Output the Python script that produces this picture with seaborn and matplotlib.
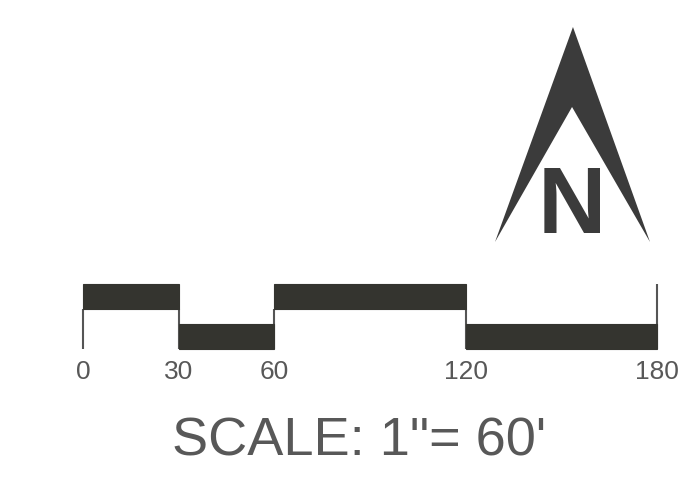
import seaborn as sns
import numpy as np
import matplotlib.pyplot as plt
from matplotlib.patches import Polygon

# scale bar data (feet)
breaks = [0, 30, 60, 120, 180]
levels = ['upper', 'lower', 'upper', 'lower']
tick_labels = ['0', '30', '60', '120', '180']
title = 'SCALE: 1"= 60\''
north = 'N'

sns.set_theme(style="white")
plt.rcParams['font.family'] = ['Liberation Sans', 'DejaVu Sans']

bar_col = '#34342f'
line_col = '#555555'
text_col = '#585858'
arrow_col = '#3b3b3b'

fig = plt.figure(figsize=(6.91, 4.83), dpi=100)
fig.patch.set_facecolor('white')

# scale bar
ax = fig.add_axes([83 / 691, 134 / 483, 574 / 691, 65 / 483])
band_h = 1.0
gap = 0.6
bottoms = {'lower': 0.0, 'upper': band_h + gap}
lefts = np.array(breaks[:-1])
widths = np.diff(breaks)
ax.bar(lefts, band_h, width=widths, bottom=[bottoms[l] for l in levels],
       align='edge', color=bar_col, edgecolor=bar_col, linewidth=0.8,
       clip_on=False, zorder=2)
tops = [band_h + gap] * (len(breaks) - 1) + [2 * band_h + gap]
ax.vlines(breaks, 0, tops, color=line_col, linewidth=1.5, zorder=1,
          clip_on=False)
ax.set_xlim(breaks[0], breaks[-1])
ax.set_ylim(0, 2 * band_h + gap)
ax.set_xticks(breaks)
ax.set_xticklabels(tick_labels, fontsize=19, color=text_col)
ax.set_yticks([])
ax.tick_params(axis='x', length=0, pad=8)
sns.despine(ax=ax, left=True, bottom=True)
ax.set_facecolor('none')

fig.text(0.52, 28 / 483, title, ha='center', va='baseline',
         fontsize=39, color=text_col)

# north arrow
nax = fig.add_axes([495 / 691, 241 / 483, 155 / 691, 215 / 483])
nax.set_xlim(0, 1)
nax.set_ylim(0, 1)
nax.axis('off')
nax.add_patch(Polygon([(0.503, 1.0), (1.0, 0.0), (0.497, 0.628), (0.0, 0.0)],
                      closed=True, facecolor=arrow_col, edgecolor='none'))
nax.text(0.495, 0.042, north, ha='center', va='baseline', fontsize=68,
         fontweight='bold', color=arrow_col)

fig.savefig('out.png', dpi=100, facecolor='white')
